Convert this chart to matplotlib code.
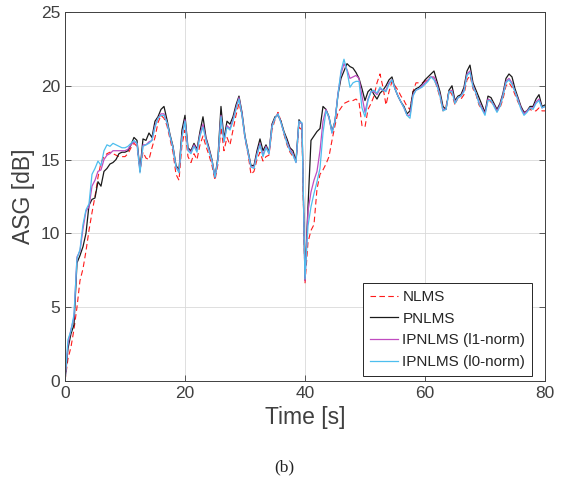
import numpy as np
import matplotlib.pyplot as plt

# time grid in seconds (0.5 s steps)
t = np.arange(0, 80.5, 0.5)

nlms = [
    0.0, 1.5, 2.3, 3.5, 5.0, 6.8, 7.6, 8.8, 10.2, 11.4,
    12.5, 13.8, 14.8, 15.2, 15.4, 15.5, 15.4, 15.3, 15.2, 15.2,
    15.2, 15.4, 15.8, 16.1, 15.9, 14.2, 15.5, 15.1, 15.0, 15.8,
    16.5, 17.5, 18.0, 17.8, 17.3, 16.4, 15.5, 14.0, 13.6, 16.0,
    17.0, 15.2, 14.8, 15.4, 15.0, 16.0, 16.6, 15.9, 15.3, 14.6,
    13.6, 14.7, 17.2, 15.6, 16.5, 16.0, 17.0, 18.0, 18.8, 18.0,
    16.4, 15.4, 14.0, 14.2, 15.0, 15.5, 14.9, 15.2, 15.3, 17.0,
    17.7, 18.2, 17.6, 16.7, 16.0, 15.5, 15.2, 14.9, 17.2, 17.0,
    6.6, 9.4, 10.2, 10.6, 13.0, 14.0, 14.3, 14.7, 15.2, 16.3,
    17.3, 18.2, 18.5, 18.8, 18.9, 19.0, 19.0, 19.1, 18.9, 17.3,
    17.2, 18.4, 18.8, 19.3, 20.2, 20.8, 19.9, 18.7, 19.6, 20.3,
    20.0, 19.7, 19.3, 19.0, 18.6, 18.4, 19.6, 20.2, 20.2, 20.2,
    20.3, 20.5, 20.6, 20.5, 19.9, 19.2, 18.3, 18.6, 19.7, 19.4,
    18.7, 19.2, 19.1, 19.4, 20.4, 20.7, 19.8, 19.4, 18.7, 18.4,
    18.2, 19.0, 18.9, 18.7, 18.3, 18.5, 19.1, 20.0, 20.2, 19.9,
    19.4, 18.9, 18.5, 18.2, 18.3, 18.4, 18.3, 18.3, 18.5, 18.3,
    18.3,
]

pnlms = [
    0.0, 2.2, 3.2, 3.8, 8.0, 8.5, 9.1, 10.0, 11.9, 12.3,
    12.4, 13.5, 13.2, 14.2, 14.4, 14.7, 14.8, 15.0, 15.4, 15.5,
    15.5, 15.6, 16.0, 16.5, 16.3, 14.3, 16.4, 16.3, 16.8, 16.5,
    17.6, 17.9, 18.4, 18.6, 17.7, 16.7, 15.9, 14.6, 14.3, 17.0,
    18.0, 15.8, 15.6, 16.1, 15.7, 16.9, 17.9, 16.5, 15.8, 15.0,
    13.8, 15.2, 18.6, 16.4, 17.6, 17.4, 17.9, 18.7, 19.3, 18.2,
    16.6, 15.6, 14.6, 14.6, 15.6, 16.4, 15.6, 16.0, 15.5, 17.4,
    17.9, 18.0, 17.6, 16.9, 16.4, 15.8, 15.6, 14.9, 17.7, 17.4,
    7.0, 11.8, 16.3, 16.6, 16.9, 17.1, 18.6, 18.4, 17.9, 16.9,
    17.6, 19.4, 20.5, 21.0, 21.5, 21.3, 21.2, 20.9, 20.5, 19.8,
    19.0, 19.6, 19.8, 19.4, 19.1, 19.5, 19.7, 20.0, 20.4, 20.6,
    19.8, 19.3, 18.9, 18.6, 18.1, 18.3, 19.6, 19.8, 19.9, 20.1,
    20.4, 20.6, 20.8, 21.0, 20.3, 19.6, 18.6, 18.4, 19.7, 20.0,
    19.0, 19.3, 19.4, 19.9, 21.0, 21.4, 20.2, 19.7, 19.2, 18.7,
    18.2, 19.3, 19.2, 18.8, 18.4, 18.8, 19.5, 20.5, 20.8, 20.6,
    19.8, 19.2, 18.6, 18.2, 18.3, 18.6, 18.6, 19.1, 19.4, 18.6,
    18.7,
]

ipnlms_l1 = [
    0.0, 2.5, 3.5, 4.3, 8.4, 8.8, 10.3, 11.5, 11.8, 13.2,
    13.6, 14.2, 14.3, 15.0, 15.3, 15.4, 15.6, 15.6, 15.6, 15.6,
    15.6, 15.7, 16.0, 16.2, 16.1, 14.2, 16.0, 16.0, 16.2, 16.3,
    17.3, 17.8, 18.1, 18.1, 17.5, 16.6, 15.8, 14.5, 14.2, 16.6,
    17.7, 15.7, 15.5, 16.0, 15.6, 16.7, 17.4, 16.4, 15.7, 14.9,
    13.8, 15.0, 18.0, 16.2, 17.3, 17.1, 17.7, 18.5, 19.2, 18.1,
    16.5, 15.5, 14.5, 14.5, 15.4, 16.1, 15.3, 15.9, 15.4, 17.3,
    17.8, 18.1, 17.5, 16.8, 16.2, 15.7, 15.4, 14.8, 17.6, 17.4,
    6.8, 11.5, 12.8, 13.6, 14.2, 15.6, 17.6, 18.4, 17.8, 16.8,
    17.6, 19.5, 20.8, 21.5, 21.1, 20.5, 20.6, 20.7, 20.5, 19.3,
    18.2, 19.1, 19.6, 19.6, 19.4, 19.8, 19.7, 19.7, 20.2, 20.4,
    19.8, 19.3, 18.9, 18.5, 18.0, 18.0, 19.4, 19.7, 19.8, 20.0,
    20.2, 20.4, 20.6, 20.6, 20.1, 19.4, 18.4, 18.4, 19.6, 19.7,
    18.9, 19.2, 19.3, 19.7, 20.8, 21.0, 20.0, 19.5, 18.9, 18.5,
    18.1, 19.1, 19.0, 18.7, 18.3, 18.7, 19.4, 20.3, 20.5, 20.2,
    19.6, 19.1, 18.5, 18.1, 18.3, 18.5, 18.5, 18.9, 19.1, 18.5,
    18.6,
]

ipnlms_l0 = [
    0.0, 2.8, 3.4, 4.5, 8.3, 8.9, 10.6, 11.6, 12.0, 14.0,
    14.4, 14.9, 14.6, 15.6, 16.0, 15.9, 16.1, 16.0, 15.9, 15.8,
    15.8, 15.9, 16.1, 16.3, 16.1, 14.1, 15.9, 16.0, 16.1, 16.3,
    17.2, 17.8, 18.0, 18.0, 17.5, 16.6, 15.8, 14.5, 14.1, 16.5,
    17.6, 15.6, 15.4, 15.9, 15.5, 16.6, 17.2, 16.3, 15.6, 14.9,
    13.8, 15.0, 17.9, 16.2, 17.2, 17.0, 17.6, 18.4, 19.1, 18.0,
    16.5, 15.5, 14.5, 14.4, 15.3, 16.0, 15.2, 15.8, 15.4, 17.2,
    17.8, 18.1, 17.5, 16.8, 16.1, 15.6, 15.3, 14.8, 17.6, 17.5,
    6.9, 10.5, 11.8, 12.7, 13.5, 14.4, 16.8, 18.3, 17.9, 16.8,
    17.6, 19.4, 21.0, 21.8, 21.0, 19.9, 20.2, 20.3, 20.3, 18.5,
    17.9, 19.0, 19.6, 19.7, 19.5, 19.9, 19.7, 19.6, 20.1, 20.4,
    19.8, 19.3, 18.9, 18.5, 18.0, 17.8, 19.3, 19.7, 19.8, 19.9,
    20.1, 20.3, 20.6, 20.4, 20.0, 19.3, 18.3, 18.4, 19.6, 19.6,
    18.8, 19.2, 19.3, 19.6, 20.7, 20.9, 19.9, 19.5, 18.8, 18.4,
    18.0, 19.0, 19.0, 18.6, 18.2, 18.6, 19.3, 20.2, 20.4, 20.1,
    19.6, 19.0, 18.4, 18.0, 18.2, 18.5, 18.4, 18.8, 19.0, 18.5,
    18.6,
]

labels = ['NLMS', 'PNLMS', 'IPNLMS (l1-norm)', 'IPNLMS (l0-norm)']
text_color = '#404040'

plt.rcParams['font.family'] = ['Liberation Sans', 'DejaVu Sans']

fig = plt.figure(figsize=(5.68, 4.87), dpi=100)
ax = fig.add_axes([0.1144, 0.2177, 0.8451, 0.7577])

ax.plot(t, nlms, color='#ff1a1a', lw=0.8, dashes=(5, 3), label=labels[0])
ax.plot(t, pnlms, color='#1a1a1a', lw=0.9, label=labels[1])
ax.plot(t, ipnlms_l1, color='#c04cc0', lw=0.9, label=labels[2])
ax.plot(t, ipnlms_l0, color='#4dbeee', lw=0.9, label=labels[3])

ax.set_xlim(0, 80)
ax.set_ylim(0, 25)
ax.set_xticks([0, 20, 40, 60, 80])
ax.set_yticks([0, 5, 10, 15, 20, 25])
ax.grid(True, color='#d9d9d9', lw=0.6)
ax.tick_params(direction='in', top=True, right=True, labelsize=12.5,
               colors=text_color, length=4, width=0.6)
for s in ax.spines.values():
    s.set_color(text_color)
    s.set_linewidth(0.7)

ax.set_xlabel('Time [s]', fontsize=16.5, color=text_color, labelpad=4)
ax.set_ylabel('ASG [dB]', fontsize=16.5, color=text_color, labelpad=4)

leg = ax.legend(loc='lower right', bbox_to_anchor=(0.973, 0.014),
                fontsize=11, handlelength=1.8, handletextpad=0.3,
                labelspacing=0.5, borderpad=0.45, borderaxespad=0,
                fancybox=False, framealpha=1)
leg.get_frame().set_edgecolor('#262626')
leg.get_frame().set_linewidth(0.7)
for txt in leg.get_texts():
    txt.set_color('#262626')

fig.text(0.5, 0.041, '(b)', ha='center', va='center', fontsize=12.5,
         family='Liberation Serif', color='#222222')

fig.savefig('out.png', dpi=100)
